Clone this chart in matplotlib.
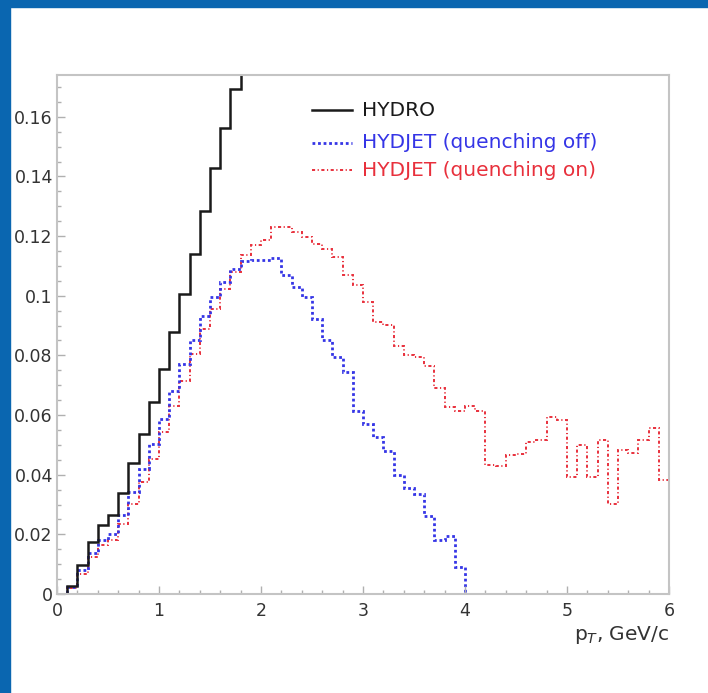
import numpy as np
import matplotlib
matplotlib.use("Agg")
import matplotlib.pyplot as plt
from matplotlib.ticker import MultipleLocator, FuncFormatter
from matplotlib.lines import Line2D
from matplotlib.patches import Rectangle

# pT spectra, bin width 0.1 GeV/c
bin_width = 0.1

hydro = [0.0, 0.0027, 0.0097, 0.0176, 0.0233, 0.0265, 0.034, 0.044, 0.0535, 0.0643,
         0.0755, 0.0879, 0.1005, 0.1139, 0.1284, 0.1429, 0.1563, 0.1692, 0.183]

hydjet_off = [0.0, 0.0022, 0.0081, 0.0137, 0.018, 0.0202, 0.0266, 0.0342, 0.042, 0.0502,
              0.0588, 0.068, 0.0772, 0.085, 0.0931, 0.0996, 0.1046, 0.1091, 0.1117, 0.1121,
              0.112, 0.1127, 0.1069, 0.103, 0.0996, 0.0923, 0.0853, 0.0795, 0.0744, 0.0613,
              0.0571, 0.0526, 0.0479, 0.0398, 0.0356, 0.0336, 0.0263, 0.018, 0.0196, 0.0092]

hydjet_on = [0.0, 0.002, 0.0068, 0.0124, 0.0163, 0.0182, 0.0236, 0.0303, 0.0375, 0.0454,
             0.0543, 0.0629, 0.0713, 0.0806, 0.089, 0.0954, 0.1021, 0.108, 0.1136, 0.117,
             0.1186, 0.1229, 0.1231, 0.1214, 0.1197, 0.1173, 0.1158, 0.113, 0.1069, 0.1035,
             0.0979, 0.0912, 0.0901, 0.0831, 0.0802, 0.0795, 0.0765, 0.0689, 0.0626, 0.0615,
             0.0629, 0.0613, 0.0432, 0.043, 0.0467, 0.047, 0.0509, 0.0517, 0.0593, 0.0582,
             0.0392, 0.0498, 0.0392, 0.0515, 0.0303, 0.0482, 0.0473, 0.0515, 0.0555, 0.0381]

labels = ["HYDRO", "HYDJET (quenching off)", "HYDJET (quenching on)"]
colors = ["#1a1a1a", "#3535e6", "#e8303c"]


def edges_for(vals):
    return np.arange(len(vals) + 1) * bin_width


fig = plt.figure(figsize=(7.08, 6.93), dpi=100)
plt.rcParams["font.family"] = ["DejaVu Sans"]

# slide frame
fig.patches.append(Rectangle((0, 0), 10 / 708, 1, transform=fig.transFigure,
                             color="#0a66b0", zorder=0))
fig.patches.append(Rectangle((0, 1 - 7 / 693), 1, 7 / 693, transform=fig.transFigure,
                             color="#0a66b0", zorder=0))

ax = fig.add_axes([57 / 708, 99 / 693, 612 / 708, 519 / 693])

red_style = (0, (1.6, 1.3, 0.6, 1.3))
blue_style = (0, (1, 1))

ax.stairs(hydjet_on, edges_for(hydjet_on), baseline=None, color=colors[2],
          linewidth=1.4, linestyle=red_style)
ax.stairs(hydjet_off, edges_for(hydjet_off), baseline=0, color=colors[1],
          linewidth=2.0, linestyle=blue_style)
ax.stairs(hydro, edges_for(hydro), baseline=None, color=colors[0], linewidth=1.8)

ax.set_xlim(0, 6)
ax.set_ylim(0, 0.174)

ax.xaxis.set_major_locator(MultipleLocator(1))
ax.xaxis.set_minor_locator(MultipleLocator(0.2))
ax.yaxis.set_major_locator(MultipleLocator(0.02))
ax.yaxis.set_minor_locator(MultipleLocator(0.005))
ax.yaxis.set_major_formatter(FuncFormatter(lambda v, p: f"{v:g}"))

for s in ax.spines.values():
    s.set_color("#c4c4c4")
    s.set_linewidth(1.5)

ax.tick_params(which="both", direction="in", color="#b0b0b0", labelcolor="#333333",
               labelsize=12.5)
ax.tick_params(which="major", length=6, width=1.0)
ax.tick_params(which="minor", length=3, width=1.0)
ax.tick_params(axis="x", pad=6)
ax.tick_params(axis="y", pad=3)

ax.set_xlabel(r"p$_{T}$, GeV/c", fontsize=14.5, color="#333333", loc="right", labelpad=3)

# key
key_rows = [110, 143, 170]
styles = ["-", blue_style, red_style]
widths = [1.8, 2.0, 1.4]
for lab, col, yy, ls, lw in zip(labels, colors, key_rows, styles, widths):
    yf = (594 - yy) / 519
    ax.add_line(Line2D([(312 - 57) / 612, (352 - 57) / 612], [yf, yf],
                       transform=ax.transAxes, color=col, linestyle=ls, linewidth=lw))
    ax.text((362 - 57) / 612, yf, lab, transform=ax.transAxes, color=col,
            fontsize=14.5, va="center", ha="left")

fig.savefig("out.png", dpi=100)
